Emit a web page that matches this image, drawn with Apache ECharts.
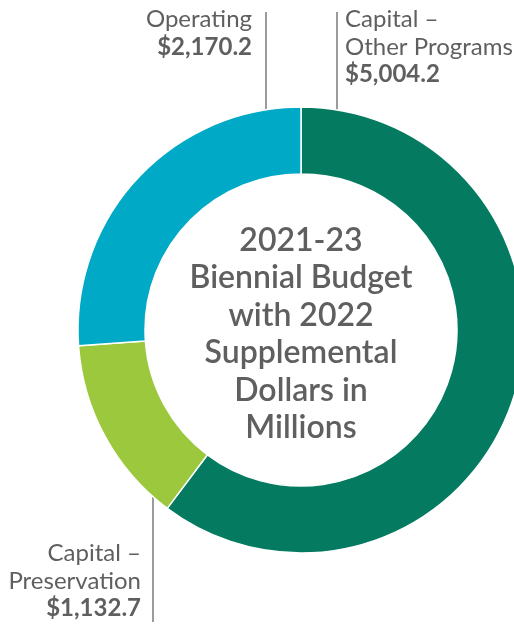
<!DOCTYPE html>
<html>
<head>
<meta charset="utf-8">
<script src="https://cdn.jsdelivr.net/npm/echarts@6/dist/echarts.min.js"></script>
<style>
  html, body { margin: 0; padding: 0; background: #ffffff; }
  #chart { width: 514px; height: 624px; }
</style>
</head>
<body>
<div id="chart"></div>
<script>
// Budget categories and amounts (dollars in millions)
const categories = ['Capital –\nOther Programs', 'Capital –\nPreservation', 'Operating'];
const values = [5004.2, 1132.7, 2170.2];
const sliceColors = ['#047b60', '#9bc83c', '#00a9c5'];
const centerLines = ['2021-23', 'Biennial Budget', 'with 2022', 'Supplemental', 'Dollars in', 'Millions'];

// Ring geometry
const CX = 301, CY = 330, R_OUT = 223, R_IN = 156;
const TEXT_GRAY = '#5f5f5f';
const LEADER_GRAY = '#7a7a7a';

// Where each label sits and where its vertical leader runs
const labelSpots = [
  { lineX: 337, lineEnd: 12,  textX: 345, textY: 6,   align: 'left'  },
  { lineX: 153, lineEnd: 622, textX: 141, textY: 540, align: 'right' },
  { lineX: 266, lineEnd: 12,  textX: 252, textY: 6,   align: 'right' }
];

function money(v) {
  return '$' + v.toLocaleString('en-US', { minimumFractionDigits: 1, maximumFractionDigits: 1 });
}

const chart = echarts.init(document.getElementById('chart'), null, { renderer: 'canvas' });

chart.setOption({
  animation: false,
  series: [{
    type: 'pie',
    center: [CX, CY],
    radius: [R_IN, R_OUT],
    startAngle: 90,
    clockwise: true,
    avoidLabelOverlap: false,
    emphasis: { disabled: true },
    itemStyle: { borderColor: '#ffffff', borderWidth: 1.5 },
    data: categories.map((name, i) => ({
      name: name,
      value: values[i],
      itemStyle: { color: sliceColors[i] },
      label: { align: labelSpots[i].align }
    })),
    label: {
      show: true,
      position: 'outside',
      formatter: p => '{n|' + p.name + '}\n{v|' + money(p.value) + '}',
      rich: {
        n: { fontFamily: 'Lato', fontSize: 24, lineHeight: 27.5, color: TEXT_GRAY },
        v: { fontFamily: 'Lato', fontSize: 24, lineHeight: 27.5, fontWeight: 'bold', color: TEXT_GRAY }
      }
    },
    labelLine: {
      show: true,
      lineStyle: { color: LEADER_GRAY, width: 1.5 }
    },
    labelLayout: function (params) {
      const s = labelSpots[params.dataIndex];
      const dx = s.lineX - CX;
      const dy = Math.sqrt(R_OUT * R_OUT - dx * dx);
      const edgeY = s.lineEnd < CY ? CY - dy : CY + dy;
      return {
        x: s.textX,
        y: s.textY,
        align: s.align,
        verticalAlign: 'top',
        labelLinePoints: [[s.lineX, edgeY], [s.lineX, (edgeY + s.lineEnd) / 2], [s.lineX, s.lineEnd]]
      };
    }
  }],
  graphic: [{
    type: 'text',
    x: CX,
    y: CY + 4,
    style: {
      text: centerLines.join('\n'),
      align: 'center',
      verticalAlign: 'middle',
      fontFamily: 'Lato',
      fontWeight: 600,
      fontSize: 32,
      lineHeight: 37.5,
      fill: TEXT_GRAY
    }
  }]
});
</script>
</body>
</html>
